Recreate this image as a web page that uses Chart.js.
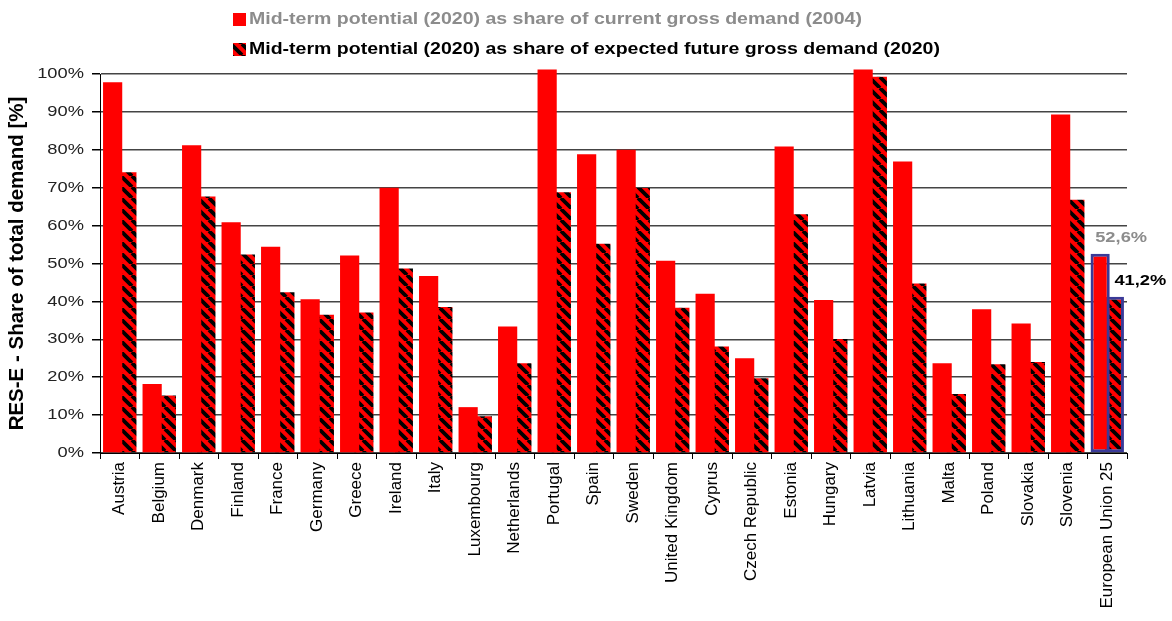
<!DOCTYPE html>
<html>
<head>
<meta charset="utf-8">
<script src="https://cdn.jsdelivr.net/npm/chart.js@4.4.1/dist/chart.umd.min.js"></script>
<style>
  html, body { margin: 0; padding: 0; background: #fff; }
  canvas { display: block; }
</style>
</head>
<body>
<canvas id="canvas" width="1172" height="621"></canvas>
<script>
var countries = [
  "Austria", "Belgium", "Denmark", "Finland", "France", "Germany", "Greece",
  "Ireland", "Italy", "Luxembourg", "Netherlands", "Portugal", "Spain", "Sweden",
  "United Kingdom", "Cyprus", "Czech Republic", "Estonia", "Hungary", "Latvia",
  "Lithuania", "Malta", "Poland", "Slovakia", "Slovenia", "European Union 25"
];

// potential 2020 as % of gross demand 2004
var shareCurrent = [
  97.8, 18.2, 81.2, 60.9, 54.4, 40.6, 52.1, 70.0, 46.7, 12.1, 33.4, 101.2, 78.8, 80.0,
  50.7, 42.0, 25.0, 80.9, 40.4, 101.2, 76.9, 23.7, 37.9, 34.2, 89.3, 52.6
];

// potential 2020 as % of expected gross demand 2020
var shareFuture = [
  74.1, 15.2, 67.7, 52.4, 42.4, 36.5, 37.1, 48.7, 38.5, 9.7, 23.7, 68.8, 55.2, 69.9,
  38.3, 28.1, 19.7, 63.0, 30.1, 99.3, 44.7, 15.6, 23.4, 24.0, 66.8, 41.2
];

var seriesNames = [
  "Mid-term potential (2020) as share of current gross demand (2004)",
  "Mid-term potential (2020) as share of expected future gross demand (2020)"
];

var yTitle = "RES-E - Share of total demand [%]";
var FONT = '"Liberation Sans", Arial, sans-serif';
var WIDE = 1.22; // horizontal stretch of the flat text

// red fill with black "\" stripes
function makeHatch() {
  var p = 11;
  var c = document.createElement("canvas");
  c.width = p; c.height = p;
  var g = c.getContext("2d");
  g.fillStyle = "#ff0000";
  g.fillRect(0, 0, p, p);
  g.strokeStyle = "#000";
  g.lineWidth = 3.8;
  g.beginPath();
  for (var k = -1; k <= 1; k++) {
    g.moveTo(k * p, 0);
    g.lineTo(k * p + p, p);
  }
  g.stroke();
  return g.createPattern(c, "repeat");
}

function wideText(ctx, text, x, y, align) {
  ctx.save();
  ctx.translate(x, y);
  ctx.scale(WIDE, 1);
  ctx.textAlign = align;
  ctx.fillText(text, 0, 0);
  ctx.restore();
}

var hatch = makeHatch();
var lastIdx = countries.length - 1;

function euBorder(ctx) { return ctx.dataIndex === lastIdx ? 3 : 0; }

var legendBox = {
  id: "legendBox",
  afterDraw: function(chart) {
    var ctx = chart.ctx;
    var fills = ["#ff0000", hatch];
    var colors = ["#8c8c8c", "#000000"];
    ctx.save();
    ctx.font = "bold 16px " + FONT;
    ctx.textBaseline = "middle";
    for (var i = 0; i < seriesNames.length; i++) {
      var y = 13 + i * 30;
      ctx.fillStyle = fills[i];
      ctx.fillRect(233, y, 13, 13);
      ctx.fillStyle = colors[i];
      wideText(ctx, seriesNames[i], 249, y + 7, "left");
    }
    ctx.restore();
  }
};

// percent labels on the value axis
var yTickLabels = {
  id: "yTickLabels",
  afterDraw: function(chart) {
    var s = chart.scales.y, ctx = chart.ctx;
    ctx.save();
    ctx.font = "15px " + FONT;
    ctx.fillStyle = "#222";
    ctx.textBaseline = "middle";
    s.ticks.forEach(function(t) {
      wideText(ctx, t.value + "%", s.right - 16, s.getPixelForValue(t.value), "right");
    });
    ctx.restore();
  }
};

// value labels above the EU-25 bars
var euLabels = {
  id: "euLabels",
  afterDatasetsDraw: function(chart) {
    var ctx = chart.ctx;
    var colors = ["#8c8c8c", "#000000"];
    var shift = [21, 26];
    ctx.save();
    ctx.font = "bold 15px " + FONT;
    ctx.textBaseline = "middle";
    for (var d = 0; d < 2; d++) {
      var bar = chart.getDatasetMeta(d).data[lastIdx];
      var v = chart.data.datasets[d].data[lastIdx];
      ctx.fillStyle = colors[d];
      wideText(ctx, v.toFixed(1).replace(".", ",") + "%", bar.x + shift[d], bar.y - 16, "center");
    }
    ctx.restore();
  }
};

var ctx = document.getElementById("canvas").getContext("2d");
var chart = new Chart(ctx, {
  type: "bar",
  data: {
    labels: countries,
    datasets: [
      {
        label: seriesNames[0],
        data: shareCurrent,
        backgroundColor: "#ff0000",
        borderColor: "#3a3a98",
        borderWidth: euBorder,
        borderSkipped: false,
        clip: false
      },
      {
        label: seriesNames[1],
        data: shareFuture,
        backgroundColor: hatch,
        borderColor: "#3a3a98",
        borderWidth: euBorder,
        borderSkipped: false,
        clip: false
      }
    ]
  },
  options: {
    responsive: false,
    animation: false,
    devicePixelRatio: 1,
    categoryPercentage: 0.72,
    barPercentage: 1.35,
    layout: { padding: { top: 74, right: 45, bottom: 0, left: 0 } },
    plugins: {
      legend: { display: false },
      tooltip: { enabled: false }
    },
    scales: {
      x: {
        offset: true,
        afterFit: function(s) { s.height = 168; },
        grid: {
          offset: true,
          drawOnChartArea: false,
          drawTicks: true,
          tickLength: 6,
          color: "#000"
        },
        border: { color: "#000", width: 1 },
        ticks: {
          autoSkip: false,
          minRotation: 90,
          maxRotation: 90,
          padding: 3,
          color: "#000",
          font: { family: FONT, size: 17 }
        }
      },
      y: {
        min: 0,
        max: 100,
        afterFit: function(s) { s.width = 100; },
        grid: {
          color: "#444",
          lineWidth: 1.5,
          tickLength: 8,
          tickColor: "#000"
        },
        border: { color: "#000", width: 1 },
        ticks: {
          display: false,
          stepSize: 10
        },
        title: {
          display: true,
          text: yTitle,
          color: "#000",
          padding: { top: 5, bottom: 0 },
          font: { family: FONT, size: 20.5, weight: "bold" }
        }
      }
    }
  },
  plugins: [legendBox, yTickLabels, euLabels]
});
</script>
</body>
</html>
